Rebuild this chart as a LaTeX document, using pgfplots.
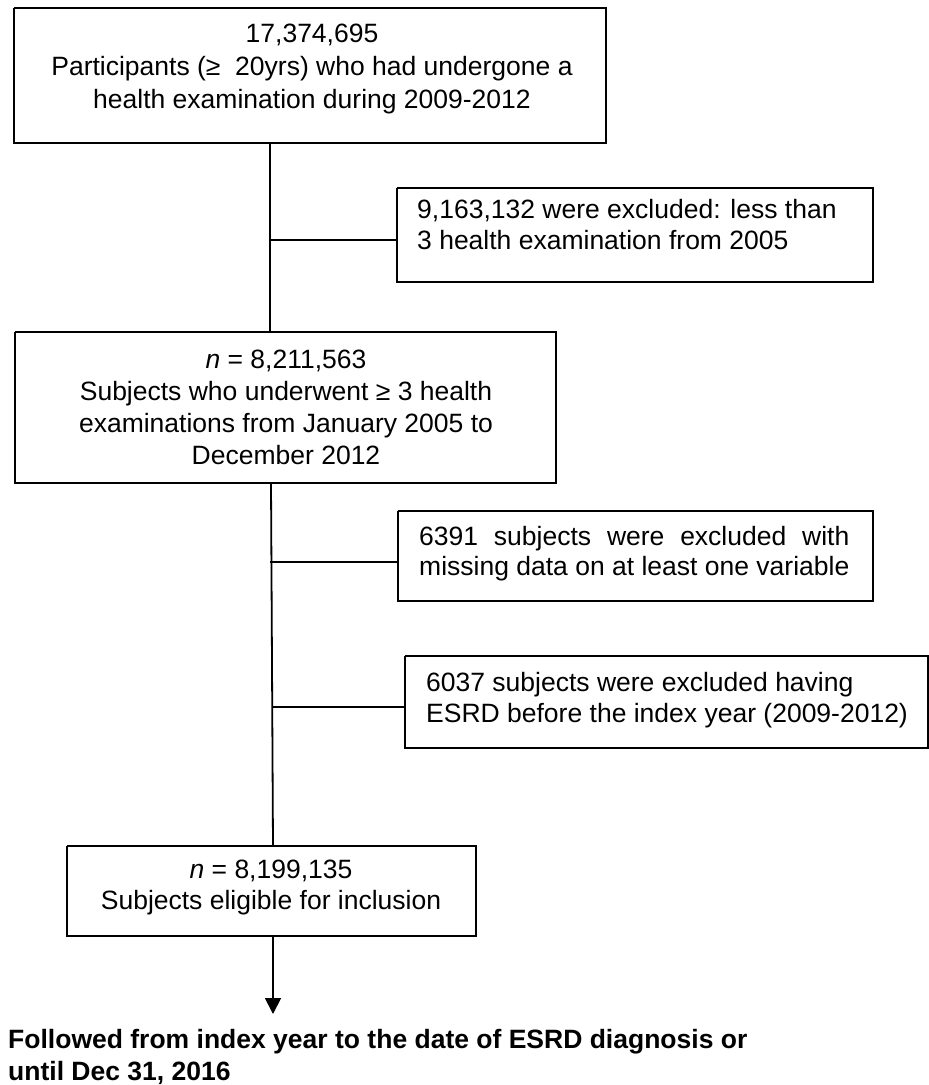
\documentclass[border=0pt]{standalone}
\usepackage{pgfplots}
\pgfplotsset{compat=1.18}
\usepackage{fontspec}
\setmainfont{Liberation Sans}
\usetikzlibrary{arrows.meta}
\newcommand\fs{\fontsize{26.5}{32}\selectfont}
\newsavebox\missbox
\tikzset{
  txt/.style={font=\fs, inner sep=0pt, anchor=base},
  txtl/.style={font=\fs, inner sep=0pt, anchor=base west},
}
\pgfplotsset{ln/.style={black, solid, no marks, line width=1.8pt, line join=miter}}
\begin{document}
\sbox\missbox{\fs missing data on at least one variable}%
\begin{tikzpicture}
\begin{axis}[
  name=main,
  x=1pt, y=1pt, y dir=reverse,
  xmin=0, xmax=929, ymin=0, ymax=1085,
  scale only axis, axis lines=none, clip=false,
]
% boxes
\addplot[ln] coordinates {(14,8) (606,8) (606,143) (14,143) (14,8)};
\addplot[ln] coordinates {(397,188) (873,188) (873,282) (397,282) (397,188)};
\addplot[ln] coordinates {(15,332) (556,332) (556,483) (15,483) (15,332)};
\addplot[ln] coordinates {(398,511) (873,511) (873,601) (398,601) (398,511)};
\addplot[ln] coordinates {(405,656) (928,656) (928,748) (405,748) (405,656)};
\addplot[ln] coordinates {(67,846) (476,846) (476,936) (67,936) (67,846)};
% connectors
\addplot[ln] coordinates {(270,143) (270,332)};
\addplot[ln] coordinates {(270,240) (397,240)};
\addplot[ln] coordinates {(271,483) (273,846)};
\addplot[ln] coordinates {(270,562) (398,562)};
\addplot[ln] coordinates {(272,707) (405,707)};
\addplot[ln, -{Triangle[width=16pt,length=16pt]}] coordinates {(273,936) (273,1014)};
% texts
\node[txt] at (axis cs:312,42) {17,374,695};
\node[txt] at (axis cs:312,75) {Participants (≥\ \ 20yrs) who had undergone a};
\node[txt] at (axis cs:312,108) {health examination during 2009-2012};
\node[txtl] at (axis cs:417,218) {9,163,132 were excluded: less than};
\node[txtl] at (axis cs:417,249) {3 health examination from 2005};
\node[txt] at (axis cs:286,368) {\textit{n} = 8,211,563};
\node[txt] at (axis cs:286,400) {Subjects who underwent ≥ 3 health};
\node[txt] at (axis cs:286,432) {examinations from January 2005 to};
\node[txt] at (axis cs:286,464) {December 2012};
\node[txtl] at (axis cs:419,545) {\hbox to \wd\missbox{6391\hfill subjects\hfill were\hfill excluded\hfill with}};
\node[txtl] at (axis cs:419,575) {\usebox\missbox};
\node[txtl] at (axis cs:426,691) {6037 subjects were excluded having};
\node[txtl] at (axis cs:426,722) {ESRD before the index year (2009-2012)};
\node[txt] at (axis cs:271,878) {\textit{n} = 8,199,135};
\node[txt] at (axis cs:271,909) {Subjects eligible for inclusion};
\node[txtl, font=\fs\bfseries] at (axis cs:8,1048) {Followed from index year to the date of ESRD diagnosis or};
\node[txtl, font=\fs\bfseries] at (axis cs:8,1080) {until Dec 31, 2016};
\end{axis}
\pgfresetboundingbox
\useasboundingbox (main.south west) rectangle (main.north east);
\end{tikzpicture}
\end{document}
